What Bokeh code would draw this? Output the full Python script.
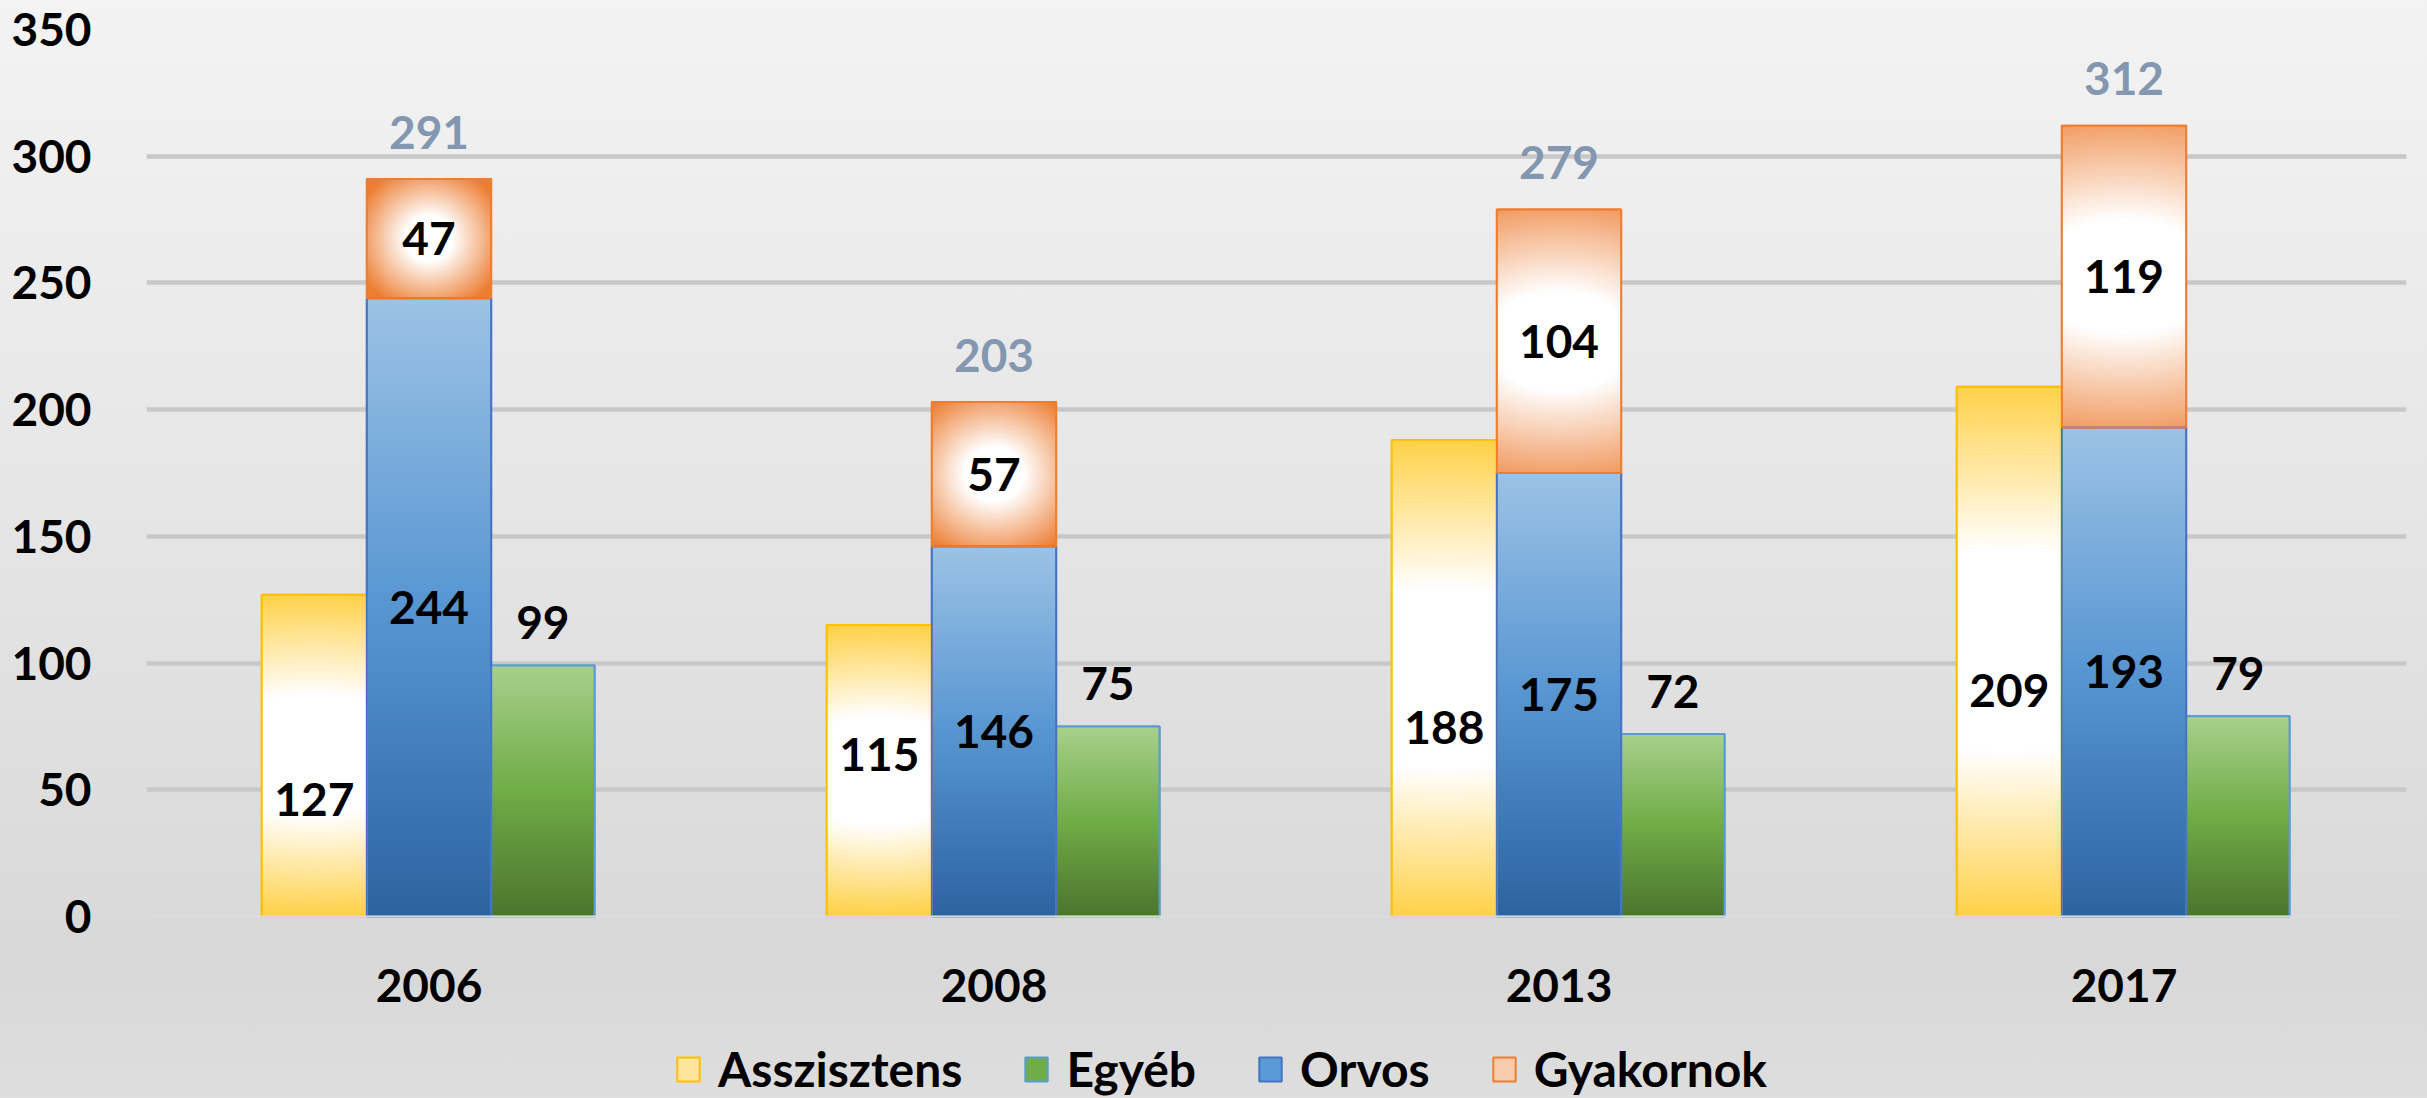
import numpy as np
from bokeh.plotting import figure
from bokeh.models import (FactorRange, Range1d, FixedTicker, Legend, LegendItem,
                          ColumnDataSource, InlineStyleSheet, Span)
from bokeh.transform import dodge
from bokeh.core.properties import value
from bokeh.embed import file_html
from bokeh.resources import INLINE

# ---------------- data ----------------
years = ["2006", "2008", "2013", "2017"]
asszisztens = [127, 115, 188, 209]
orvos = [244, 146, 175, 193]
egyeb = [99, 75, 72, 79]
gyakornok = [47, 57, 104, 119]
y_ticks = [0, 50, 100, 150, 200, 250, 300, 350]
series_names = ["Asszisztens", "Egyéb", "Orvos", "Gyakornok"]

totals = [o + g for o, g in zip(orvos, gyakornok)]

# ---------------- style ----------------
FONT = "Lato"
FS = "46px"
W_Y, W_B, W_G = 0.186, 0.22, 0.183
OFF_Y = -(W_B + W_Y) / 2
OFF_G = (W_B + W_G) / 2
TOP_PX, ZERO_PX, H_PX = 29, 916, 1098      # page rows of 350, of 0, and page height
PX_X = 2260 / 4.0
PX_Y = (ZERO_PX - TOP_PX) / 350.0
Y_MIN = -(H_PX - ZERO_PX) / PX_Y          # frame reaches the bottom edge (legend room)
YELLOW = (255, 192, 0)
ORANGE = (237, 125, 49)
BLUE_STOPS = [(0.0, (44, 100, 160)), (0.5, (88, 150, 210)), (1.0, (157, 195, 230))]
GREEN_STOPS = [(0.0, (76, 117, 46)), (0.5, (112, 173, 71)), (1.0, (169, 209, 142))]
assz_label_shift = [44, -16, 49, 39]   # screen px, label nudges as in original


def to_rgba(rgb):
    ny, nx, _ = rgb.shape
    img = np.empty((ny, nx), dtype=np.uint32)
    view = img.view(dtype=np.uint8).reshape((ny, nx, 4))
    view[..., :3] = np.clip(rgb, 0, 255).astype(np.uint8)
    view[..., 3] = 255
    return img


def radial_img(val, w_units, rgb, ny=256, nx=64):
    hw = w_units * PX_X / 2
    hh = val * PX_Y / 2
    s = min(1.0, hw / hh) ** 1.5
    v = (np.arange(ny) + 0.5) / ny * 2 - 1
    u = (np.arange(nx) + 0.5) / nx * 2 - 1
    U, V = np.meshgrid(u, v)
    t = np.sqrt((U * s) ** 2 + V ** 2)
    f = np.clip((t - 0.38) / (1.25 - 0.38), 0, 1)
    c = np.array(rgb, dtype=float)
    out = 255 + (c - 255) * f[..., None]
    return to_rgba(out)


def linear_img(stops, ny=256, nx=2):
    pos = np.array([s[0] for s in stops])
    cols = np.array([s[1] for s in stops], dtype=float)
    v = (np.arange(ny) + 0.5) / ny
    rgb = np.stack([np.interp(v, pos, cols[:, k]) for k in range(3)], axis=-1)
    out = np.repeat(rgb[:, None, :], nx, axis=1)
    return to_rgba(out)


src = ColumnDataSource(dict(
    year=years,
    assz=asszisztens, orvos=orvos, egyeb=egyeb, gyak=gyakornok, total=totals,
    zero=[0] * len(years),
    assz_mid=[a / 2 for a in asszisztens],
    orvos_mid=[o / 2 for o in orvos],
    gyak_mid=[o + g / 2 for o, g in zip(orvos, gyakornok)],
    assz_lbl=[str(a) for a in asszisztens],
    orvos_lbl=[str(a) for a in orvos],
    egyeb_lbl=[str(a) for a in egyeb],
    gyak_lbl=[str(a) for a in gyakornok],
    total_lbl=[str(a) for a in totals],
    assz_shift=assz_label_shift,
    img_y=[radial_img(a, W_Y, YELLOW) for a in asszisztens],
    img_o=[radial_img(g, W_B, ORANGE) for g in gyakornok],
    img_b=[linear_img(BLUE_STOPS) for _ in orvos],
    img_g=[linear_img(GREEN_STOPS) for _ in egyeb],
))

p = figure(width=2427, height=H_PX, output_backend="svg", toolbar_location=None,
           x_range=FactorRange(*years), y_range=Range1d(Y_MIN, 350),
           x_axis_location=None,
           min_border_left=146, min_border_right=21, min_border_top=TOP_PX,
           min_border_bottom=0, outline_line_color=None)
p.background_fill_alpha = 0
p.border_fill_alpha = 0
p.stylesheets = [InlineStyleSheet(css=":host { background: linear-gradient(180deg, #f3f3f3 0%, #e6e6e6 45%, #d8d8d8 88%, #dedede 100%); }")]

# base line at 0
p.add_layout(Span(location=0, dimension="width", line_color="#DCDCDC", line_width=2))

# base bars (also used for legend swatches)
r_y = p.vbar(x=dodge("year", OFF_Y, range=p.x_range), top="assz", bottom=0, width=W_Y,
             source=src, fill_color="#FFE699", line_color="#FFC000", line_width=2)
r_g = p.vbar(x=dodge("year", OFF_G, range=p.x_range), top="egyeb", bottom=0, width=W_G,
             source=src, fill_color="#70AD47", line_color="#5B9BD5", line_width=2)
r_b = p.vbar(x=dodge("year", 0, range=p.x_range), top="orvos", bottom=0, width=W_B,
             source=src, fill_color="#5B9BD5", line_color="#4472C4", line_width=2)
r_o = p.vbar(x=dodge("year", 0, range=p.x_range), top="total", bottom="orvos", width=W_B,
             source=src, fill_color="#F8CBAD", line_color="#ED7D31", line_width=2)

# gradient fills
p.image_rgba(image="img_y", x=dodge("year", OFF_Y - W_Y / 2, range=p.x_range), y="zero",
             dw=W_Y, dh="assz", source=src)
p.image_rgba(image="img_g", x=dodge("year", OFF_G - W_G / 2, range=p.x_range), y="zero",
             dw=W_G, dh="egyeb", source=src)
p.image_rgba(image="img_b", x=dodge("year", -W_B / 2, range=p.x_range), y="zero",
             dw=W_B, dh="orvos", source=src)
p.image_rgba(image="img_o", x=dodge("year", -W_B / 2, range=p.x_range), y="orvos",
             dw=W_B, dh="gyak", source=src)

# outlines on top
p.vbar(x=dodge("year", OFF_Y, range=p.x_range), top="assz", bottom=0, width=W_Y,
       source=src, fill_alpha=0, line_color="#FFC000", line_width=2)
p.vbar(x=dodge("year", OFF_G, range=p.x_range), top="egyeb", bottom=0, width=W_G,
       source=src, fill_alpha=0, line_color="#5B9BD5", line_width=2)
p.vbar(x=dodge("year", 0, range=p.x_range), top="orvos", bottom=0, width=W_B,
       source=src, fill_alpha=0, line_color="#4472C4", line_width=2)
p.vbar(x=dodge("year", 0, range=p.x_range), top="total", bottom="orvos", width=W_B,
       source=src, fill_alpha=0, line_color="#ED7D31", line_width=2)

# labels
common = dict(source=src, text_font=value(FONT), text_font_style="bold",
              text_font_size=FS, text_align="center", text_baseline="middle")
p.text(x=dodge("year", OFF_Y, range=p.x_range), y="assz_mid", text="assz_lbl",
       y_offset="assz_shift", text_color="black", **common)
p.text(x=dodge("year", 0, range=p.x_range), y="orvos_mid", text="orvos_lbl",
       text_color="black", **common)
p.text(x=dodge("year", 0, range=p.x_range), y="gyak_mid", text="gyak_lbl",
       text_color="black", **common)
p.text(x=dodge("year", OFF_G, range=p.x_range), y="egyeb", text="egyeb_lbl",
       y_offset=-43, text_color="black", **common)
p.text(x=dodge("year", 0, range=p.x_range), y="total", text="total_lbl",
       y_offset=-47, text_color="#8497B0", **common)
# category (year) labels under the base line
p.text(x="year", y="zero", text="year", y_offset=69, text_color="black", **common)

# y axis / grid
p.yaxis.ticker = FixedTicker(ticks=y_ticks)
p.ygrid.ticker = FixedTicker(ticks=y_ticks[1:])
p.ygrid.grid_line_color = "#C8C8C8"
p.ygrid.grid_line_width = 4.5
p.xgrid.grid_line_color = None
ax = p.yaxis[0]
ax.major_tick_line_color = None
ax.minor_tick_line_color = None
ax.major_label_text_font = FONT
ax.major_label_text_font_style = "bold"
ax.major_label_text_font_size = FS
ax.major_label_text_color = "black"
ax.axis_line_color = None
ax.major_label_standoff = 49

legend = Legend(items=[LegendItem(label=series_names[0], renderers=[r_y]),
                       LegendItem(label=series_names[1], renderers=[r_g]),
                       LegendItem(label=series_names[2], renderers=[r_b]),
                       LegendItem(label=series_names[3], renderers=[r_o])],
                orientation="horizontal", location=(528, 1),
                label_text_font=FONT, label_text_font_style="bold",
                label_text_font_size="48px", label_text_color="black",
                glyph_width=28, glyph_height=30, label_standoff=16, spacing=60,
                padding=0, margin=0, border_line_color=None,
                background_fill_alpha=0)
p.add_layout(legend)

open("out.html", "w").write(file_html(p, INLINE))
